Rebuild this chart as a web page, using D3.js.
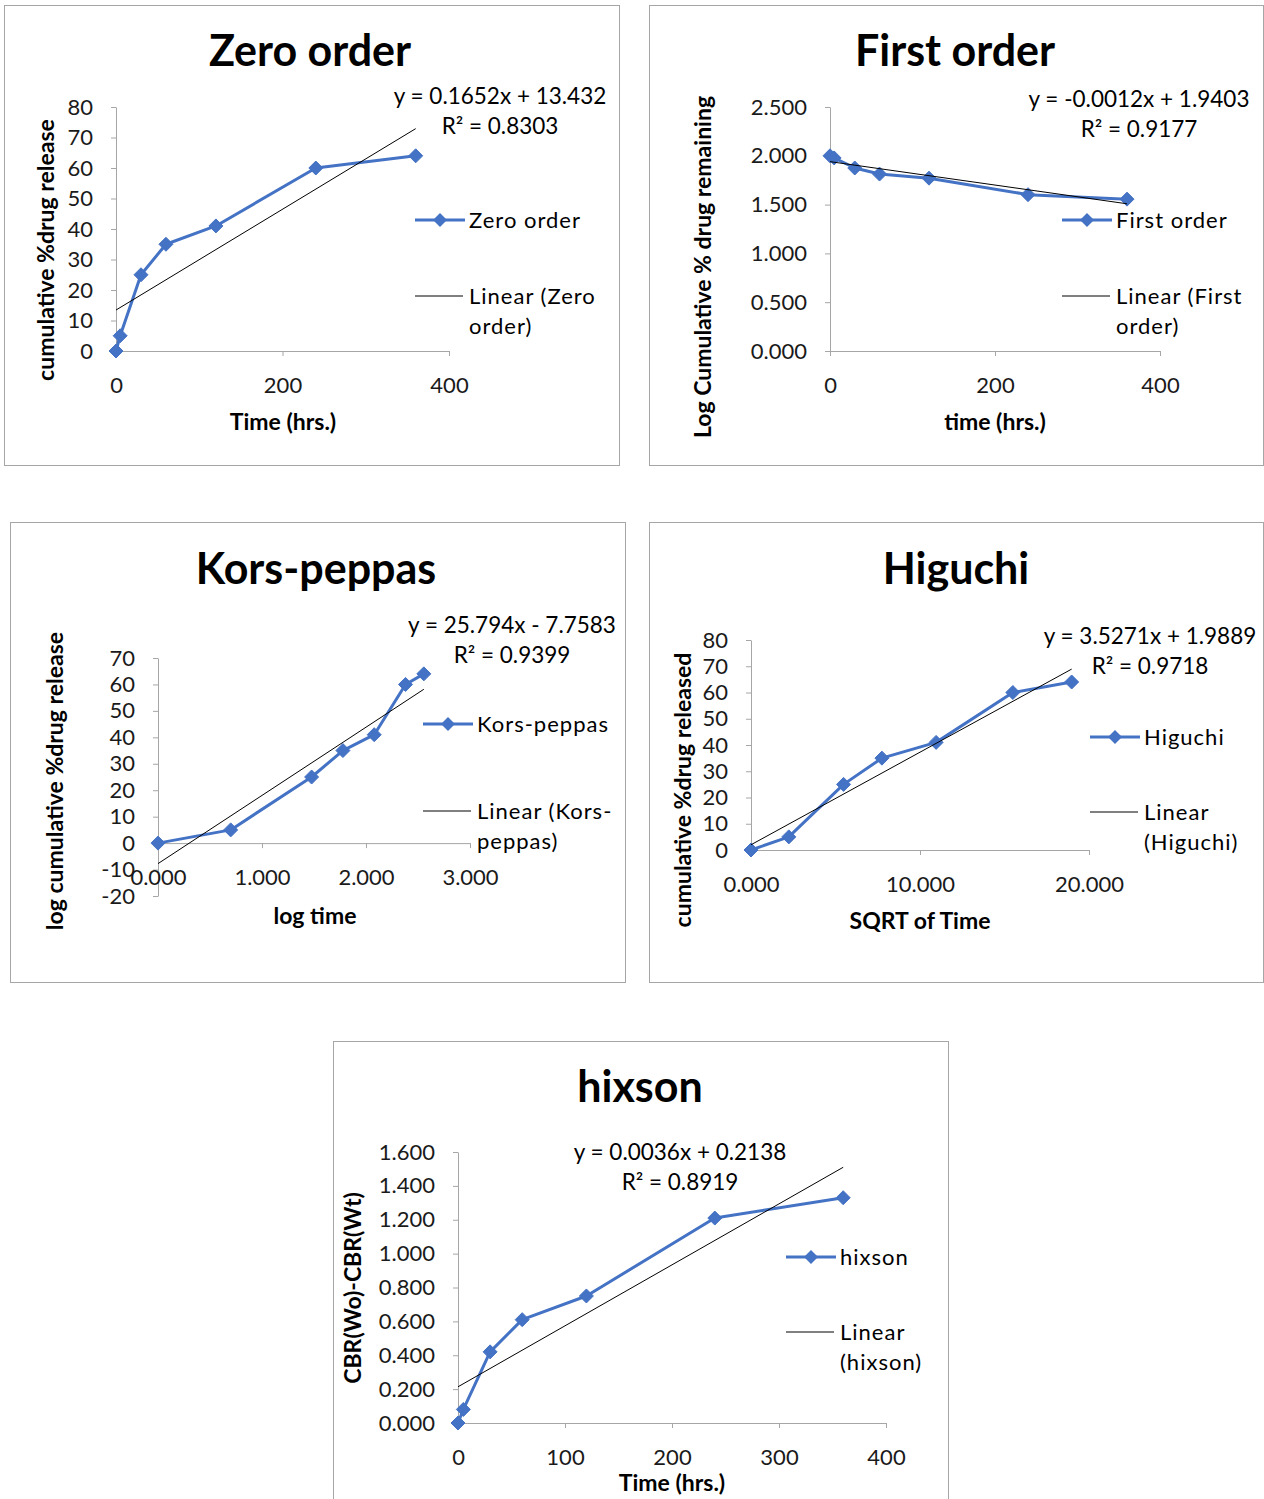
<!DOCTYPE html>
<html><head><meta charset="utf-8">
<script src="https://cdn.jsdelivr.net/npm/d3@7"></script>
<style>
body{margin:0;background:#fff}
svg{display:block}
text{font-family:Lato,"Open Sans",sans-serif}
</style>
</head><body>
<svg id="c" width="1264" height="1499"></svg>
<script>
// ---------- DATA ----------
const timeHrs = [0, 5, 30, 60, 120, 240, 360];
const zeroOrderRelease = [0, 5, 25, 35, 41, 60, 64];
const firstOrderLogRemaining = [2.000, 1.978, 1.875, 1.813, 1.771, 1.602, 1.556];
const logTime = [0.000, 0.699, 1.477, 1.778, 2.079, 2.380, 2.556];
const korsPeppasRelease = [0, 5, 25, 35, 41, 60, 64];
const sqrtTime = [0.000, 2.236, 5.477, 7.746, 10.954, 15.492, 18.974];
const higuchiRelease = [0, 5, 25, 35, 41, 60, 64];
const hixsonValues = [0.000, 0.080, 0.420, 0.610, 0.750, 1.210, 1.330];

const chartTitles = ["Zero order", "First order", "Kors-peppas", "Higuchi", "hixson"];
const xAxisTitles = ["Time (hrs.)", "time (hrs.)", "log time", "SQRT of Time", "Time (hrs.)"];
const yAxisTitles = ["cumulative %drug release", "Log Cumulative % drug remaining",
  "log cumulative %drug release", "cumulative %drug released", "CBR(Wo)-CBR(Wt)"];
const equations = ["y = 0.1652x + 13.432", "y = -0.0012x + 1.9403", "y = 25.794x - 7.7583",
  "y = 3.5271x + 1.9889", "y = 0.0036x + 0.2138"];
const rSquared = ["R² = 0.8303", "R² = 0.9177", "R² = 0.9399", "R² = 0.9718", "R² = 0.8919"];
const trendSlopes = [0.1652, -0.0012, 25.794, 3.5271, 0.0036];
const trendIntercepts = [13.432, 1.9403, -7.7583, 1.9889, 0.2138];
const seriesNames = ["Zero order", "First order", "Kors-peppas", "Higuchi", "hixson"];
const linearNames = [["Linear (Zero", "order)"], ["Linear (First", "order)"],
  ["Linear (Kors-", "peppas)"], ["Linear", "(Higuchi)"], ["Linear", "(hixson)"]];
const xTickValues = [[0, 200, 400], [0, 200, 400], [0, 1, 2, 3], [0, 10, 20], [0, 100, 200, 300, 400]];
const yTickValues = [
  [0, 10, 20, 30, 40, 50, 60, 70, 80],
  [0, 0.5, 1.0, 1.5, 2.0, 2.5],
  [-20, -10, 0, 10, 20, 30, 40, 50, 60, 70],
  [0, 10, 20, 30, 40, 50, 60, 70, 80],
  [0, 0.2, 0.4, 0.6, 0.8, 1.0, 1.2, 1.4, 1.6]
];
const xSeries = [timeHrs, timeHrs, logTime, sqrtTime, timeHrs];
const ySeries = [zeroOrderRelease, firstOrderLogRemaining, korsPeppasRelease, higuchiRelease, hixsonValues];
const xFormats = ["d", "d", ".3f", ".3f", "d"];
const yFormats = ["d", ".3f", "d", "d", ".3f"];

// ---------- LAYOUT ----------
const layouts = [
  {frame:[4,5,615,460], xr:[116,449], yr:[351,107], xd:[0,400], yd:[0,80],
   title:[310,66], xt:[283,430], yt:[54,250], eq:[500,104], leg:[415,220], lin:[415,296]},
  {frame:[649,5,614,460], xr:[830,1160], yr:[351,107], xd:[0,400], yd:[0,2.5],
   title:[955,66], xt:[995,430], yt:[711,267], eq:[1139,107], leg:[1062,220], lin:[1062,296]},
  {frame:[10,522,615,460], xr:[158,470], yr:[896,658], xd:[0,3], yd:[-20,70],
   title:[316,584], xt:[315,924], yt:[63,781], eq:[512,633], leg:[423,724], lin:[423,811]},
  {frame:[649,522,614,460], xr:[751,1089], yr:[850,640], xd:[0,20], yd:[0,80],
   title:[956,584], xt:[920,929], yt:[691,790], eq:[1150,644], leg:[1090,737], lin:[1090,812]},
  {frame:[333,1041,615,470], xr:[458,886], yr:[1423,1152], xd:[0,400], yd:[0,1.6],
   title:[640,1102], xt:[672,1491], yt:[361,1288], eq:[680,1160], leg:[786,1257], lin:[786,1332]}
];

const blue = "#4472C4";
const svg = d3.select("#c");
const diamond = r => `M0,${-r}L${r},0L0,${r}L${-r},0Z`;
const fmt = f => d => d3.format(f)(d).replace("\u2212", "-");

layouts.forEach((L, i) => {
  const g = svg.append("g");
  g.append("rect").attr("x", L.frame[0] + 0.5).attr("y", L.frame[1] + 0.5)
    .attr("width", L.frame[2]).attr("height", L.frame[3])
    .attr("fill", "#fff").attr("stroke", "#a6a6a6").attr("stroke-width", 1);

  const x = d3.scaleLinear().domain(L.xd).range(L.xr);
  const y = d3.scaleLinear().domain(L.yd).range(L.yr);

  // title
  g.append("text").attr("x", L.title[0]).attr("y", L.title[1]).attr("text-anchor", "middle")
    .attr("font-size", 43).attr("font-weight", 700).attr("fill", "#000").text(chartTitles[i]);

  // axes
  const yAxis = d3.axisLeft(y).tickValues(yTickValues[i]).tickFormat(fmt(yFormats[i]))
    .tickSize(5).tickSizeOuter(0).tickPadding(18);
  const xAxis = d3.axisBottom(x).tickValues(xTickValues[i]).tickFormat(fmt(xFormats[i]))
    .tickSize(5).tickSizeOuter(0).tickPadding(22);

  const ya = g.append("g").attr("transform", `translate(${L.xr[0]},0)`).call(yAxis);
  const xa = g.append("g").attr("transform", `translate(0,${y(0)})`).call(xAxis);
  [ya, xa].forEach(a => {
    a.select(".domain").attr("stroke", "#a6a6a6");
    a.selectAll(".tick line").attr("stroke", "#a6a6a6");
    a.selectAll(".tick text").attr("font-size", 22).attr("fill", "#1a1a1a")
      .attr("font-family", "Lato, 'Open Sans', sans-serif");
  });
  xa.selectAll(".tick text").attr("dy", "0.68em");

  // axis titles
  g.append("text").attr("x", L.xt[0]).attr("y", L.xt[1]).attr("text-anchor", "middle")
    .attr("font-size", 23).attr("font-weight", 700).attr("fill", "#000").text(xAxisTitles[i]);
  g.append("text").attr("transform", `translate(${L.yt[0]},${L.yt[1]}) rotate(-90)`)
    .attr("text-anchor", "middle").attr("font-size", 23).attr("font-weight", 700)
    .attr("fill", "#000").text(yAxisTitles[i]);

  // data series
  const pts = xSeries[i].map((xv, k) => [xv, ySeries[i][k]]);
  g.append("path").datum(pts).attr("fill", "none").attr("stroke", blue).attr("stroke-width", 3)
    .attr("stroke-linejoin", "round")
    .attr("d", d3.line().x(d => x(d[0])).y(d => y(d[1])));
  g.selectAll(".m").data(pts).enter().append("path")
    .attr("transform", d => `translate(${x(d[0])},${y(d[1])})`)
    .attr("d", diamond(7)).attr("fill", blue).attr("stroke", blue);

  // trendline
  const xmin = d3.min(xSeries[i]), xmax = d3.max(xSeries[i]);
  const tl = [xmin, xmax].map(v => [v, trendSlopes[i] * v + trendIntercepts[i]]);
  g.append("path").datum(tl).attr("fill", "none").attr("stroke", "#000").attr("stroke-width", 1)
    .attr("d", d3.line().x(d => x(d[0])).y(d => y(d[1])));

  // equation
  g.append("text").attr("x", L.eq[0]).attr("y", L.eq[1]).attr("text-anchor", "middle")
    .attr("font-size", 22.5).attr("fill", "#000").text(equations[i]);
  g.append("text").attr("x", L.eq[0]).attr("y", L.eq[1] + 30).attr("text-anchor", "middle")
    .attr("font-size", 22.5).attr("fill", "#000").text(rSquared[i]);

  // legend
  const lx = L.leg[0], ly = L.leg[1];
  g.append("line").attr("x1", lx).attr("x2", lx + 50).attr("y1", ly).attr("y2", ly)
    .attr("stroke", blue).attr("stroke-width", 3);
  g.append("path").attr("transform", `translate(${lx + 25},${ly})`).attr("d", diamond(7))
    .attr("fill", blue);
  g.append("text").attr("x", lx + 54).attr("y", ly + 8).attr("font-size", 22)
    .attr("letter-spacing", 1).attr("fill", "#000").text(seriesNames[i]);
  const kx = L.lin[0], ky = L.lin[1];
  g.append("line").attr("x1", kx).attr("x2", kx + 48).attr("y1", ky).attr("y2", ky)
    .attr("stroke", "#000").attr("stroke-width", 1);
  linearNames[i].forEach((t, j) => {
    g.append("text").attr("x", kx + 54).attr("y", ky + 8 + j * 30).attr("font-size", 22)
      .attr("letter-spacing", 1).attr("fill", "#000").text(t);
  });
});
</script>
</body></html>
